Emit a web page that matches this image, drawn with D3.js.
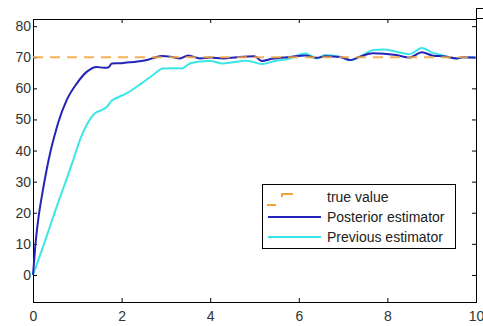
<!DOCTYPE html>
<html lang="en">

<head>
  <meta charset="UTF-8">
  <script src="https://d3js.org/d3.v7.min.js" charset="utf-8"></script>
  <title>estimator</title>
  <style>
    body { margin: 0; background: #fff; }
    text { font-family: "Liberation Sans", Arial, sans-serif; }
  </style>
</head>

<body>
</body>
<script>
  // data
  let trueT = [0, 10]
  let trueV = [70, 70]

  let postT = [0, 0.05, 0.12, 0.22, 0.31, 0.4, 0.5, 0.57, 0.76, 0.99, 1.21, 1.44, 1.6, 1.7, 1.78, 2.0, 2.26, 2.45, 2.64, 2.9, 3.1, 3.32, 3.5, 3.77, 4.0, 4.29, 4.6, 5.0, 5.17, 5.4, 5.8, 6.14, 6.4, 6.6, 6.93, 7.16, 7.38, 7.68, 8.2, 8.5, 8.78, 9.03, 9.25, 9.57, 9.7, 10]
  let postV = [0, 9, 18, 27, 34, 40, 45.5, 49, 56.2, 61.6, 65.3, 66.9, 66.6, 66.7, 68, 68.1, 68.5, 68.8, 69.4, 70.4, 70.2, 69.6, 70.6, 69.6, 69.9, 69.6, 70, 70.3, 68.8, 69.5, 70.1, 70.6, 69.8, 70.3, 70.1, 69.1, 70.2, 71.3, 70.7, 69.9, 71.6, 70.5, 70.3, 69.6, 70, 69.9]

  let prevT = [0, 0.25, 0.5, 0.75, 0.91, 1.06, 1.21, 1.4, 1.55, 1.69, 1.76, 1.9, 2.11, 2.45, 2.71, 2.93, 3.15, 3.36, 3.54, 3.69, 4.0, 4.29, 4.83, 5.17, 5.46, 5.8, 6.14, 6.25, 6.41, 6.59, 6.93, 7.16, 7.38, 7.68, 7.9, 8.2, 8.5, 8.78, 9.03, 9.25, 9.57, 9.7, 10]
  let prevV = [0, 10, 20.5, 30.5, 37, 43.4, 48.2, 52, 53, 54.4, 55.8, 57, 58.4, 61.6, 64.3, 66.4, 66.5, 66.4, 68, 68.5, 68.8, 68, 68.9, 67.8, 68.8, 69.6, 71.2, 70.7, 69.6, 70.7, 70.2, 69, 70.1, 72.3, 72.5, 71.8, 71, 73, 71.4, 70.6, 69.6, 70, 69.9]

  let xTicks = [0, 2, 4, 6, 8, 10]
  let yTicks = [0, 10, 20, 30, 40, 50, 60, 70, 80]
  let legendNames = ['true value', 'Posterior estimator', 'Previous estimator']

  let width = 483
  let height = 326
  let mLeft = 33, mRight = 476, mTop = 19, mBottom = 302

  let svg = d3.select('body')
    .append('svg')
    .attr('width', width)
    .attr('height', height)

  let x = d3.scaleLinear().domain([0, 10]).range([mLeft, mRight])
  let y = d3.scaleLinear().domain([-8.7, 82.3]).range([mBottom, mTop])

  // axes, ticks pointing inward on all four sides
  let axisStyle = g => {
    g.select('.domain').remove()
    g.selectAll('line').attr('stroke', '#000')
    g.selectAll('text').attr('fill', '#333').style('font-size', '14px')
  }

  svg.append('g')
    .attr('transform', `translate(0,${mBottom})`)
    .call(d3.axisBottom(x).tickValues(xTicks).tickSizeInner(-4).tickSizeOuter(0).tickPadding(9))
    .call(axisStyle)

  svg.append('g')
    .attr('transform', `translate(0,${mTop})`)
    .call(d3.axisTop(x).tickValues(xTicks).tickSizeInner(-4).tickSizeOuter(0).tickFormat(''))
    .call(axisStyle)

  svg.append('g')
    .attr('transform', `translate(${mLeft},0)`)
    .call(d3.axisLeft(y).tickValues(yTicks).tickSizeInner(-4).tickSizeOuter(0).tickPadding(2))
    .call(axisStyle)

  svg.append('g')
    .attr('transform', `translate(${mRight},0)`)
    .call(d3.axisRight(y).tickValues(yTicks).tickSizeInner(-4).tickSizeOuter(0).tickFormat(''))
    .call(axisStyle)

  svg.append('rect')
    .attr('x', mLeft + 0.5)
    .attr('y', mTop + 0.5)
    .attr('width', mRight - mLeft)
    .attr('height', mBottom - mTop)
    .attr('fill', 'none')
    .attr('stroke', '#000')

  // small box in the top right corner
  svg.append('rect')
    .attr('x', 476.5).attr('y', 8.5)
    .attr('width', 9).attr('height', 10)
    .attr('fill', '#fff').attr('stroke', '#000')

  let line = d3.line()
    .x(d => x(d[0]))
    .y(d => y(d[1]))
    .curve(d3.curveMonotoneX)

  let plot = svg.append('g')

  plot.append('path')
    .datum(prevT.map((t, i) => [t, prevV[i]]))
    .attr('d', line)
    .attr('fill', 'none')
    .attr('stroke', '#3de6e6')
    .attr('stroke-width', 2)

  plot.append('path')
    .datum(postT.map((t, i) => [t, postV[i]]))
    .attr('d', line)
    .attr('fill', 'none')
    .attr('stroke', '#2424b8')
    .attr('stroke-width', 2)

  plot.append('path')
    .datum(trueT.map((t, i) => [t, trueV[i]]))
    .attr('d', line)
    .attr('fill', 'none')
    .attr('stroke', '#f2a53c')
    .attr('stroke-width', 2)
    .attr('stroke-dasharray', '10,7')
    .attr('opacity', 0.85)

  // legend
  let lg = svg.append('g')
  lg.append('rect')
    .attr('x', 262.5).attr('y', 184.5)
    .attr('width', 193).attr('height', 64)
    .attr('fill', '#fff').attr('stroke', '#000')

  lg.append('path')
    .attr('d', 'M267,205H276M282,197V194H293')
    .attr('fill', 'none')
    .attr('stroke', '#f2a53c')
    .attr('stroke-width', 2)

  lg.append('line')
    .attr('x1', 268).attr('x2', 321).attr('y1', 217).attr('y2', 217)
    .attr('stroke', '#2424b8').attr('stroke-width', 2)

  lg.append('line')
    .attr('x1', 268).attr('x2', 321).attr('y1', 237).attr('y2', 237)
    .attr('stroke', '#3de6e6').attr('stroke-width', 2)

  lg.selectAll('text.name')
    .data(legendNames)
    .enter()
    .append('text')
    .attr('class', 'name')
    .attr('x', 327)
    .attr('y', (d, i) => 202 + i * 20)
    .attr('fill', '#222')
    .style('font-size', '14px')
    .text(d => d)
</script>

</html>
